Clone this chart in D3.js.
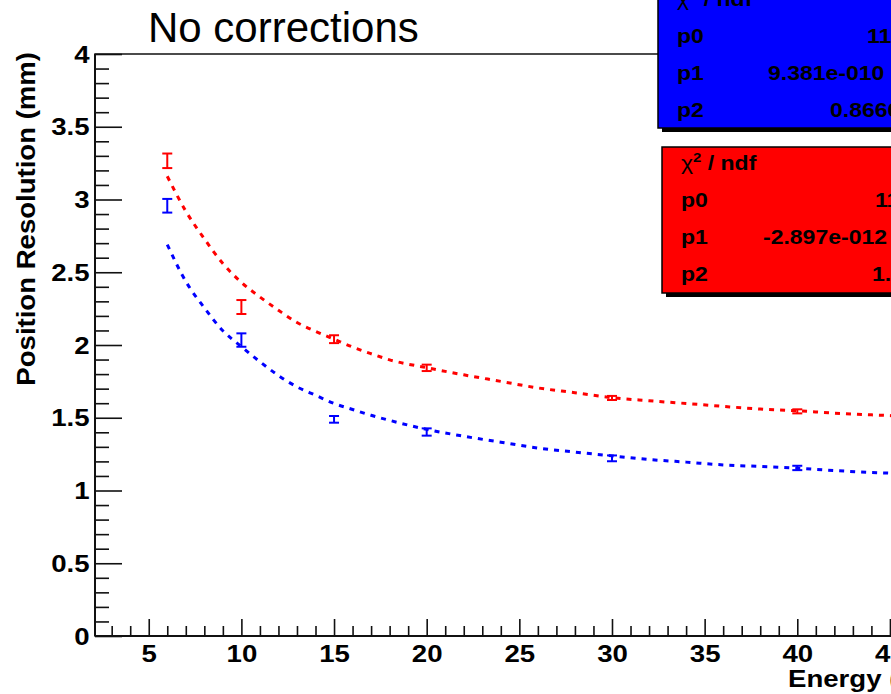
<!DOCTYPE html>
<html>
<head>
<meta charset="utf-8">
<script src="https://cdn.jsdelivr.net/npm/d3@7"></script>
<style>
  html, body { margin: 0; padding: 0; background: #fff; }
  svg { display: block; }
</style>
</head>
<body>
<svg id="chart" width="891" height="694"></svg>
<script>
// Measured resolution per beam energy, with statistical errors
const energies = [6, 10, 15, 20, 30, 40];
const redRes  = [3.266, 2.261, 2.040, 1.843, 1.636, 1.544];
const redErr  = [0.050, 0.048, 0.027, 0.022, 0.014, 0.014];
const blueRes = [2.957, 2.034, 1.489, 1.402, 1.221, 1.155];
const blueErr = [0.047, 0.046, 0.023, 0.025, 0.020, 0.015];

// Fitted resolution curves, sampled along the energy axis
const fitE    = [6, 7, 8, 9, 10, 11, 12, 13, 14, 15, 16, 17, 18, 20, 22, 24, 26, 28, 30, 32, 34, 36, 38, 40, 42, 44, 46];
const redFit  = [3.16, 2.92, 2.73, 2.56, 2.43, 2.33, 2.239, 2.155, 2.094, 2.04, 1.986, 1.94, 1.898, 1.844, 1.795, 1.75, 1.705, 1.672, 1.638, 1.617, 1.598, 1.578, 1.56, 1.548, 1.532, 1.52, 1.51];
const blueFit = [2.69, 2.437, 2.256, 2.098, 1.989, 1.885, 1.79, 1.712, 1.655, 1.598, 1.557, 1.517, 1.482, 1.42, 1.373, 1.332, 1.292, 1.264, 1.238, 1.213, 1.195, 1.176, 1.165, 1.153, 1.137, 1.124, 1.115];

// Axis ticks and labels
const yMajor = [0, 0.5, 1, 1.5, 2, 2.5, 3, 3.5, 4];
const yMinor = d3.range(1, 40).map(i => i / 10).filter(v => Math.abs(v * 2 - Math.round(v * 2)) > 1e-6);
const xMajor = [5, 10, 15, 20, 25, 30, 35, 40, 45];
const xMinor = d3.range(3, 50).filter(v => v % 5 !== 0);

// Fit-parameter boxes
const blueStats = [["p0", "11"], ["p1", "9.381e-010"], ["p2", "0.8666"]];
const redStats  = [["p0", "11"], ["p1", "-2.897e-012"], ["p2", "1.26"]];

const FONT = "'Liberation Sans', Arial, Helvetica, sans-serif";
const STRETCH = 1.15;

const svg = d3.select("#chart");
svg.append("rect").attr("width", 891).attr("height", 694).attr("fill", "#fff");

const x = d3.scaleLinear().domain([2.1, 50]).range([95, 95 + 18.53 * 47.9]);
const y = d3.scaleLinear().domain([0, 4]).range([636, 54]);

// Frame
svg.append("rect")
  .attr("x", x.range()[0]).attr("y", y.range()[1])
  .attr("width", x.range()[1] - x.range()[0])
  .attr("height", y.range()[0] - y.range()[1])
  .attr("fill", "none").attr("stroke", "#111").attr("stroke-width", 1.5);

// Y axis
const gy = svg.append("g").attr("transform", `translate(${x.range()[0]},0)`);
gy.call(d3.axisLeft(y).tickValues(yMajor).tickSize(-27).tickSizeOuter(0).tickPadding(0).tickFormat(d => String(d)));
gy.append("g").call(d3.axisLeft(y).tickValues(yMinor).tickSize(-14).tickSizeOuter(0).tickFormat(""));
gy.selectAll(".domain").remove();
gy.selectAll("line").attr("stroke", "#111").attr("stroke-width", 1.6);
gy.selectAll("text")
  .attr("x", 0).attr("dy", "0.34em")
  .attr("transform", `translate(-5.5,0) scale(${STRETCH},1)`)
  .attr("font-family", FONT).attr("font-weight", "bold").attr("font-size", 24).attr("fill", "#000");
gy.append("line").attr("x1", 0).attr("x2", 0).attr("y1", y.range()[0]).attr("y2", y.range()[1])
  .attr("stroke", "#111").attr("stroke-width", 2);

// X axis
const gx = svg.append("g").attr("transform", `translate(0,${y.range()[0]})`);
gx.call(d3.axisBottom(x).tickValues(xMajor).tickSize(-17).tickSizeOuter(0).tickPadding(9).tickFormat(d => String(d)));
gx.append("g").call(d3.axisBottom(x).tickValues(xMinor).tickSize(-10).tickSizeOuter(0).tickFormat(""));
gx.selectAll(".domain").remove();
gx.selectAll("line").attr("stroke", "#111").attr("stroke-width", 1.6);
gx.selectAll("text")
  .attr("transform", `scale(${STRETCH},1)`)
  .attr("font-family", FONT).attr("font-weight", "bold").attr("font-size", 24).attr("fill", "#000");
gx.append("line").attr("x1", x.range()[0]).attr("x2", x.range()[1]).attr("y1", 0).attr("y2", 0)
  .attr("stroke", "#111").attr("stroke-width", 2);

// Axis titles
svg.append("text")
  .attr("transform", `translate(35,52) rotate(-90) scale(1.06,1)`)
  .attr("text-anchor", "end")
  .attr("font-family", FONT).attr("font-weight", "bold").attr("font-size", 26).attr("fill", "#000")
  .text("Position Resolution (mm)");
svg.append("text")
  .attr("transform", `translate(788,687) scale(${STRETCH},1)`)
  .attr("font-family", FONT).attr("font-weight", "bold").attr("font-size", 24).attr("fill", "#000")
  .text("Energy (GeV)");

// Fit curves
const line = d3.line().x(d => x(d[0])).y(d => y(d[1])).curve(d3.curveMonotoneX);
[[redFit, "#ff0000"], [blueFit, "#0000ff"]].forEach(([vals, col]) => {
  svg.append("path")
    .attr("d", line(fitE.map((e, i) => [e, vals[i]])))
    .attr("fill", "none").attr("stroke", col).attr("stroke-width", 3)
    .attr("stroke-dasharray", "5,6");
});

// Error bars
function errorBars(vals, errs, col) {
  const g = svg.append("g").attr("stroke", col).attr("stroke-width", 2);
  energies.forEach((e, i) => {
    const cx = x(e), y0 = y(vals[i] - errs[i]), y1 = y(vals[i] + errs[i]);
    g.append("line").attr("x1", cx).attr("x2", cx).attr("y1", y0).attr("y2", y1);
    g.append("line").attr("x1", cx - 5).attr("x2", cx + 5).attr("y1", y0).attr("y2", y0);
    g.append("line").attr("x1", cx - 5).attr("x2", cx + 5).attr("y1", y1).attr("y2", y1);
  });
}
errorBars(redRes, redErr, "#ff0000");
errorBars(blueRes, blueErr, "#0000ff");

// Fit-parameter boxes with drop shadow
function statsBox(bx, by, h, fill, labelX, firstBase, rows, valueX) {
  const g = svg.append("g");
  g.append("rect").attr("x", bx + 4).attr("y", by + 4).attr("width", 400).attr("height", h).attr("fill", "#000");
  g.append("rect").attr("x", bx).attr("y", by).attr("width", 400).attr("height", h)
    .attr("fill", fill).attr("stroke", "#000").attr("stroke-width", 1.5);
  const chi = g.append("text")
    .attr("transform", `translate(${labelX},${firstBase}) scale(${STRETCH},1)`)
    .attr("font-family", FONT).attr("font-size", 20).attr("fill", "#000");
  chi.append("tspan").text("χ");
  chi.append("tspan").attr("font-size", 13).attr("font-weight", "bold").attr("dy", -8).text("2");
  chi.append("tspan").attr("font-weight", "bold").attr("dy", 8).text(" / ndf");
  rows.forEach((r, i) => {
    const base = firstBase + 37 * (i + 1);
    g.append("text")
      .attr("transform", `translate(${labelX},${base}) scale(${STRETCH},1)`)
      .attr("font-family", FONT).attr("font-weight", "bold").attr("font-size", 20).attr("fill", "#000")
      .text(r[0]);
    g.append("text")
      .attr("transform", `translate(${valueX[i]},${base}) scale(${STRETCH},1)`)
      .attr("font-family", FONT).attr("font-weight", "bold").attr("font-size", 20).attr("fill", "#000")
      .text(r[1]);
  });
}
statsBox(658, -17, 145, "#0000ff", 677, 6, blueStats, [867, 768, 830]);
statsBox(662, 147, 146, "#ff0000", 681, 170, redStats, [875, 763, 872]);

// Title
svg.append("text")
  .attr("x", 148).attr("y", 42)
  .attr("font-family", FONT).attr("font-size", 42).attr("fill", "#000")
  .text("No corrections");
</script>
</body>
</html>
